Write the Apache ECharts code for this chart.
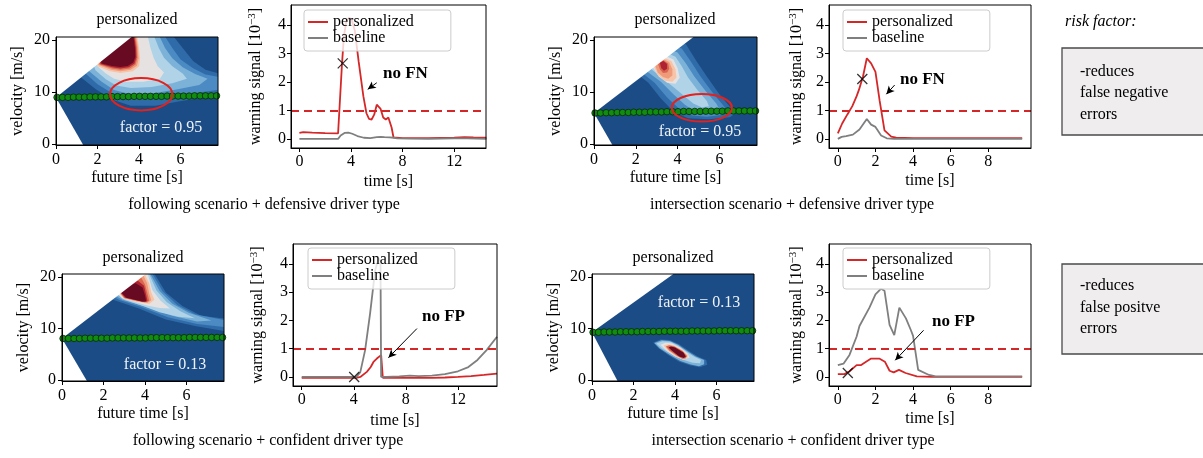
<!DOCTYPE html>
<html><head><meta charset="utf-8">
<script src="https://cdn.jsdelivr.net/npm/echarts@6/dist/echarts.min.js"></script>
<style>html,body{margin:0;padding:0;background:#fff}#c{width:1203px;height:458px}</style>
</head><body><div id="c"></div>
<script>
// ---------------- DATA ----------------
const heatTicksX = [0, 2, 4, 6];
const heatTicksY = [0, 10, 20];
const longTimeTicks = [0, 4, 8, 12];
const shortTimeTicks = [0, 2, 4, 6, 8];
const signalTicks = [0, 1, 2, 3, 4];
const threshold = 1;

// predicted trajectory (green dots): future time [s] and velocity [m/s]
const dotTimes = [0.05,0.31,0.58,0.84,1.11,1.37,1.64,1.90,2.17,2.43,2.70,2.96,3.23,3.49,3.76,4.02,4.29,4.55,4.82,5.08,5.35,5.61,5.88,6.14,6.41,6.67,6.94,7.20,7.47,7.73];
const hm1DotVel = [9.0,9.0,9.0,9.05,9.05,9.05,9.1,9.1,9.1,9.1,9.15,9.15,9.15,9.15,9.2,9.2,9.2,9.2,9.2,9.2,9.25,9.25,9.25,9.25,9.25,9.3,9.3,9.3,9.3,9.3];
const hm2DotVel = [6.0,6.0,6.05,6.05,6.1,6.1,6.1,6.15,6.15,6.15,6.2,6.2,6.2,6.25,6.25,6.25,6.3,6.3,6.3,6.3,6.35,6.35,6.35,6.35,6.4,6.4,6.4,6.4,6.4,6.4];
const hm3DotVel = [8.1,8.1,8.1,8.1,8.15,8.15,8.15,8.15,8.15,8.2,8.2,8.2,8.2,8.2,8.2,8.2,8.25,8.25,8.25,8.25,8.25,8.25,8.25,8.3,8.3,8.3,8.3,8.3,8.3,8.3];
const hm4DotVel = [9.3,9.3,9.35,9.35,9.35,9.4,9.4,9.4,9.4,9.45,9.45,9.45,9.45,9.5,9.5,9.5,9.5,9.5,9.55,9.55,9.55,9.55,9.55,9.6,9.6,9.6,9.6,9.6,9.6,9.6];

// reachable-set wedge: start point, where upper / lower limit leave the plot
const hm1Wedge = [[0, 9.0], [3.64, 20.6], [1.31, -0.15]];
const hm2Wedge = [[0, 6.0], [4.76, 20.6], [0.88, -0.15]];
const hm3Wedge = [[0, 8.1], [4.04, 20.6], [1.20, -0.15]];
const hm4Wedge = [[0, 9.3], [3.92, 20.6], [1.23, -0.15]];

// contour regions: [level, polygon in (time, velocity)]
const hm1Contours = [
 [1, [[0.5,21],[5.6,21],[6.1,18.5],[6.6,16.0],[7.2,14.3],[7.9,13.5],[7.9,9.6],[6.9,8.9],[5.9,8.2],[4.8,7.4],[3.6,7.4],[2.7,8.6],[1.9,10.6],[1.0,13.5]]],
 [2, [[0.7,21],[5.2,21],[5.6,18.5],[6.0,16.3],[6.6,14.6],[7.2,13.4],[7.9,12.9],[7.9,10.5],[6.8,9.9],[5.7,9.2],[4.6,8.7],[3.5,8.7],[2.7,9.8],[2.0,11.5],[1.3,14]]],
 [3, [[1.0,21],[4.95,21],[5.25,18.5],[5.6,16.5],[6.1,14.8],[6.7,13.5],[7.3,12.6],[6.9,11.4],[5.8,10.5],[4.7,9.8],[3.6,9.6],[2.8,10.4],[2.2,12],[1.6,14]]],
 [4, [[1.3,21],[4.7,21],[4.95,18.5],[5.2,16.6],[5.6,15.0],[6.1,13.6],[6.3,12.6],[5.6,11.7],[4.6,11.0],[3.6,10.8],[2.9,11.3],[2.4,12.5],[1.9,14.2]]],
 [5, [[1.6,21],[4.4,21],[4.55,18.5],[4.7,16.6],[4.9,15.0],[5.2,13.8],[5.0,12.6],[4.2,12.0],[3.4,12.0],[2.8,12.6],[2.4,13.6],[2.0,15]]],
 [6, [[1.7,21],[3.9,21],[4.0,18.5],[4.05,16.5],[4.0,15.0],[3.7,14.0],[3.1,13.7],[2.6,14.0],[2.0,15.0]]],
 [7, [[1.75,21],[3.85,21],[3.95,18.5],[3.98,16.5],[3.9,15.1],[3.6,14.3],[3.1,14.0],[2.65,14.3],[2.05,15.2]]],
 [8, [[1.8,21],[3.8,21],[3.9,18.5],[3.92,16.6],[3.83,15.3],[3.55,14.55],[3.1,14.3],[2.7,14.55],[2.1,15.3]]],
 [9, [[1.8,21],[3.76,21],[3.85,18.5],[3.87,16.7],[3.78,15.5],[3.5,14.8],[3.1,14.55],[2.7,14.8],[2.15,15.4]]],
 [10,[[1.8,21],[3.72,21],[3.8,18.5],[3.82,16.8],[3.72,15.7],[3.45,15.05],[3.1,14.85],[2.7,15.05],[2.2,15.5]]]
];
const hm2Contours = [
 [1, [[1.6,15],[3.3,20.5],[4.4,19.2],[4.9,16.0],[5.4,13.0],[6.0,9.6],[6.5,7.2],[6.8,6.0],[6.5,5.2],[5.5,4.8],[4.5,5.0],[3.8,6.3],[3.2,8.8],[2.6,11.8]]],
 [2, [[1.9,15],[3.4,19.5],[4.2,18.4],[4.65,15.8],[5.1,13.0],[5.7,9.8],[6.2,7.4],[6.4,6.2],[6.1,5.6],[5.4,5.3],[4.7,5.5],[4.1,6.7],[3.5,9.0],[2.9,11.8]]],
 [3, [[2.2,15],[3.4,18.7],[4.0,17.6],[4.4,15.5],[4.8,13.0],[5.35,10.2],[5.85,7.8],[6.0,6.7],[5.7,6.2],[5.2,6.1],[4.8,6.4],[4.35,7.6],[3.8,9.6],[3.2,12]]],
 [4, [[2.5,15.2],[3.35,17.8],[3.9,16.8],[4.2,15.0],[4.5,12.8],[4.95,10.4],[5.4,8.3],[5.5,7.3],[5.15,7.1],[4.75,7.8],[4.3,9.3],[3.8,11.0],[3.3,12.6]]],
 [5, [[2.7,15.5],[3.3,17.2],[3.8,16.3],[4.0,14.6],[4.1,12.8],[3.9,11.6],[3.5,11.8],[3.1,13.0]]],
 [6, [[2.8,15.5],[3.25,16.8],[3.7,16.0],[3.9,14.4],[3.95,12.8],[3.75,12.0],[3.4,12.2],[3.05,13.3]]],
 [7, [[2.9,15.4],[3.25,16.5],[3.6,15.8],[3.75,14.4],[3.75,13.2],[3.55,12.6],[3.3,12.9],[3.05,13.8]]],
 [8, [[3.05,15.6],[3.3,16.2],[3.55,15.5],[3.6,14.5],[3.5,13.8],[3.3,13.7],[3.15,14.4]]],
 [9, [[3.15,15.7],[3.33,16.0],[3.5,15.4],[3.5,14.5],[3.35,14.1],[3.22,14.6]]]
];
const hm3Contours = [
 [1, [[1.5,17],[3.5,21],[4.4,21],[5.0,17.0],[5.8,14.4],[6.7,12.5],[7.9,11.9],[7.9,9.5],[6.4,10.5],[5.0,11.8],[3.7,13.9],[2.6,15.4]]],
 [2, [[1.8,17.5],[3.6,21],[4.3,21],[4.85,17.2],[5.55,14.6],[6.4,12.8],[7.9,11.6],[7.9,10.3],[6.5,10.9],[5.1,12.2],[3.8,14.2],[2.8,15.5]]],
 [3, [[2.0,17.8],[3.7,21],[4.2,21],[4.7,17.3],[5.3,14.9],[6.1,13.1],[7.2,11.6],[6.5,11.4],[5.3,12.5],[4.0,14.3],[2.9,15.6]]],
 [4, [[2.2,18],[3.8,21],[4.15,21],[4.55,17.4],[5.05,15.1],[5.7,13.4],[6.4,12.0],[5.6,12.3],[4.7,13.2],[3.9,14.4],[3.0,15.6]]],
 [5, [[2.4,18],[3.9,21],[4.1,21],[4.35,17.5],[4.75,15.4],[5.2,13.9],[4.7,14.0],[4.1,14.5],[3.4,15.3],[2.9,15.9]]],
 [6, [[2.5,18],[3.95,20.8],[4.2,18.8],[4.3,17.0],[4.45,15.6],[4.2,14.8],[3.6,15.2],[3.0,15.8]]],
 [7, [[2.55,18],[3.9,20.5],[4.1,18.8],[4.2,16.8],[4.3,15.5],[4.1,15.0],[3.6,15.3],[3.0,15.9]]],
 [8, [[2.6,18],[3.8,20.0],[4.0,18.5],[4.12,16.7],[4.2,15.4],[4.0,15.1],[3.6,15.4],[3.0,15.95]]],
 [9, [[2.65,17.8],[3.65,19.3],[3.95,18.3],[4.05,16.6],[4.12,15.3],[3.95,15.15],[3.6,15.5],[3.05,16.0]]],
 [10,[[2.7,17.6],[3.55,18.8],[3.88,18.0],[4.0,16.4],[4.05,15.3],[3.85,15.25],[3.5,15.6],[3.1,16.0]]]
];
const hm4Contours = [
 [1, [[2.95,7.3],[3.3,7.9],[3.75,7.8],[4.2,7.0],[4.7,5.6],[5.1,4.6],[5.5,3.9],[5.55,3.0],[5.2,2.5],[4.7,2.9],[4.2,3.6],[3.7,4.8],[3.2,6.2]]],
 [3, [[3.0,7.2],[3.35,7.75],[3.75,7.6],[4.15,6.9],[4.6,5.6],[5.0,4.6],[5.4,3.9],[5.4,3.1],[5.15,2.7],[4.75,3.05],[4.25,3.75],[3.75,4.9],[3.25,6.2]]],
 [4, [[3.1,7.1],[3.4,7.55],[3.8,7.4],[4.15,6.7],[4.55,5.5],[4.9,4.6],[5.25,3.9],[5.2,3.3],[4.85,3.4],[4.35,4.0],[3.85,5.0],[3.35,6.2]]],
 [5, [[3.3,6.9],[3.55,7.25],[3.85,7.1],[4.25,6.3],[4.6,5.2],[4.7,4.4],[4.4,4.0],[4.0,4.6],[3.6,5.7]]],
 [6, [[3.45,6.75],[3.65,7.0],[3.9,6.85],[4.3,6.0],[4.62,4.9],[4.6,4.2],[4.35,4.05],[4.05,4.6],[3.65,5.7]]],
 [8, [[3.55,6.55],[3.72,6.8],[3.95,6.6],[4.35,5.7],[4.58,4.7],[4.5,4.2],[4.35,4.15],[4.1,4.7],[3.72,5.75]]],
 [10,[[3.68,6.35],[3.8,6.55],[4.0,6.35],[4.4,5.4],[4.52,4.6],[4.42,4.3],[4.2,4.6],[3.85,5.7]]]
];

// highlighted regions (ellipses): centre time, centre velocity, half-width, half-height
const hm1Ellipse = [[4.1, 9.6, 1.5, 3.1]];
const hm2Ellipse = [[5.16, 7.0, 1.44, 2.65]];

// warning signals [1e-3] over time [s]
const fdPers = [[0,0.21],[0.3,0.24],[1.0,0.22],[2.0,0.2],[3.0,0.19],[3.08,0.2],[3.3,2.6],[3.45,3.6],[3.65,4.15],[3.85,4.25],[4.05,4.2],[4.3,3.8],[4.6,2.7],[4.96,1.5],[5.2,0.9],[5.4,0.7],[5.6,0.68],[5.8,0.85],[6.0,1.2],[6.1,1.25],[6.3,1.05],[6.5,0.75],[6.7,0.68],[6.9,0.75],[7.05,0.82],[7.15,0.4],[7.3,0.05],[8,0.03],[10,0.03],[12,0.04],[12.8,0.06],[13.5,0.05],[14.5,0.04]];
const fdBase = [[0,0],[3.0,0],[3.2,0.12],[3.5,0.21],[3.8,0.22],[4.1,0.18],[4.5,0.1],[5.0,0.04],[5.5,0.03],[6.0,0.06],[6.3,0.07],[6.6,0.06],[7.0,0.05],[7.3,0.04],[7.6,0.02],[8.5,0.01],[10,0.0],[12,0.02],[13,0.02],[14.5,0.0]];
const idPers = [[0,0.19],[0.23,0.54],[0.5,0.85],[0.77,1.15],[1.0,1.5],[1.12,1.72],[1.34,2.2],[1.54,2.83],[1.77,2.65],[2.0,2.35],[2.22,1.35],[2.48,0.3],[2.84,0.08],[3.1,0.04],[4,0.03],[6,0.03],[8,0.03],[9.8,0.03]];
const idBase = [[0,0.0],[0.2,0.07],[0.44,0.1],[0.8,0.15],[1.15,0.33],[1.54,0.7],[1.77,0.5],[2.0,0.42],[2.3,0.12],[2.6,0.02],[3.0,0.0],[9.8,0.0]];
const fcPers = [[0,-0.03],[4.2,-0.03],[4.5,0.0],[5.0,0.18],[5.3,0.35],[5.51,0.53],[5.77,0.65],[6.1,0.77],[6.23,-0.03],[8,-0.03],[10,-0.03],[11,-0.02],[12,0.0],[13,0.03],[14,0.07],[15,0.12]];
const fcBase = [[0,0],[4.2,0],[4.5,0.17],[4.87,0.95],[5.25,2.24],[5.64,3.77],[5.9,4.2],[6.05,4.1],[6.1,0.0],[6.5,0.0],[7.5,0.02],[8.3,0.05],[9,0.03],[10,0.05],[11,0.1],[12,0.2],[12.8,0.35],[13.5,0.6],[14.2,0.95],[15,1.42]];
const icPers = [[0,0.1],[0.35,0.1],[0.62,0.2],[1.0,0.42],[1.24,0.42],[1.5,0.54],[1.77,0.65],[2.2,0.65],[2.5,0.54],[2.75,0.22],[2.97,0.16],[3.25,0.25],[3.6,0.14],[4.2,0.02],[5,0.0],[9.8,0.0]];
const icBase = [[0,0.42],[0.3,0.47],[0.62,0.78],[1.0,1.43],[1.15,1.8],[1.68,2.45],[2.0,2.92],[2.3,3.12],[2.48,3.05],[2.75,1.84],[3.0,1.48],[3.27,2.45],[3.62,2.07],[3.88,1.66],[4.0,1.45],[4.27,0.25],[4.85,0.07],[5.2,0.02],[9.8,0.02]];

// crosses (takeover moment) and annotation arrows [from, to]
const fdCross = [[3.36, 2.65]];
const idCross = [[1.3, 2.1]];
const fcCross = [[4.03, 0.0]];
const icCross = [[0.53, 0.14]];
const fdArrow = [[6.0, 1.97], [5.3, 1.74]];
const idArrow = [[3.02, 1.89], [2.58, 1.57]];
const fcArrow = [[8.85, 1.71], [6.66, 0.68]];
const icArrow = [[4.56, 1.65], [3.05, 0.59]];

// ---------------- STYLE / LAYOUT ----------------
const FONT = 'Liberation Serif, "Times New Roman", serif';
const palette = ['#1b4c85','#2f6ba8','#4b8ac2','#7cb2d8','#b0d3e8','#e6e2e2','#f7c4a8','#ee9b7b','#d9654f','#ae2232','#670a22'];
const RED = '#d62728', GRAY = '#7f7f7f';

const grids = [
  {left:56, top:37, width:162, height:108},
  {left:594, top:37, width:163, height:108},
  {left:62, top:274, width:162, height:107},
  {left:592, top:274, width:162, height:107},
  {left:291, top:5, width:195, height:143},
  {left:829, top:5, width:202, height:143},
  {left:293, top:244, width:204, height:142},
  {left:829, top:244, width:202, height:142}
].map(g => Object.assign({show:true, borderColor:'#000', borderWidth:1, backgroundColor:'transparent', z:10}, g));

const labelStyle = {fontFamily: FONT, fontSize: 16, color: '#000'};

function axis(gi, min, max, ticks, name, gap, margin) {
  return {
    gridIndex: gi, type: 'value', min, max, z: 10,
    axisLine: {show: true, onZero: false, lineStyle: {color: '#000', width: 1}},
    axisTick: {show: true, inside: false, length: 4, customValues: ticks, lineStyle: {color: '#000'}},
    axisLabel: Object.assign({customValues: ticks, margin}, labelStyle),
    splitLine: {show: false},
    name, nameLocation: 'middle', nameGap: gap,
    nameTextStyle: Object.assign({rich: {sup: {fontFamily: FONT, fontSize: 11, color:'#000', verticalAlign: 'top', lineHeight: 18}}, lineHeight: 18}, labelStyle)
  };
}

const xAxes = [], yAxes = [];
for (let i = 0; i < 4; i++) {
  xAxes.push(axis(i, 0, 7.8, heatTicksX, 'future time [s]', 24, 7));
  yAxes.push(axis(i, -0.15, 20.6, heatTicksY, 'velocity [m/s]', 29, 6));
}
const lineXRange = [[-0.65, 14.47, longTimeTicks, 25], [-0.47, 10.27, shortTimeTicks, 24], [-0.67, 15.0, longTimeTicks, 26], [-0.47, 10.27, shortTimeTicks, 24]];
const ySig = 'warning signal [10{sup|−3}]';
const lineYGap = [26, 23, 26, 23];
for (let i = 0; i < 4; i++) {
  const r = lineXRange[i];
  xAxes.push(axis(4 + i, r[0], r[1], r[2], 'time [s]', r[3], 6));
  yAxes.push(axis(4 + i, -0.32, 4.7, signalTicks, ySig, lineYGap[i], 5));
}

function contourSeries(gi, contours, wedge) {
  const n = contours.length;
  const data = [];
  for (let k = 0; k < n + 2; k++) data.push([k]);
  return {
    type: 'custom', xAxisIndex: gi, yAxisIndex: gi, clip: true, silent: true, z: 1,
    data,
    renderItem: function (params, api) {
      const k = params.dataIndex;
      const cs = params.coordSys;
      if (k === 0) {
        return {type: 'rect', z2: 0, shape: {x: cs.x, y: cs.y, width: cs.width, height: cs.height}, style: {fill: palette[0]}};
      }
      if (k <= n) {
        const c = contours[k - 1];
        return {type: 'polygon', z2: k, shape: {points: c[1].map(p => api.coord(p))}, style: {fill: palette[c[0]]}};
      }
      const p0 = api.coord(wedge[0]), pt = api.coord(wedge[1]), pb = api.coord(wedge[2]);
      return {type: 'group', children: [
        {type: 'polygon', z2: 50, shape: {points: [p0, pt, [pt[0], pt[1] - 30], [p0[0] - 30, pt[1] - 30], [p0[0] - 30, p0[1]]]}, style: {fill: '#fff'}},
        {type: 'polygon', z2: 50, shape: {points: [p0, pb, [pb[0], pb[1] + 30], [p0[0] - 30, pb[1] + 30], [p0[0] - 30, p0[1]]]}, style: {fill: '#fff'}}
      ]};
    }
  };
}
function dotSeries(gi, vel) {
  return {type: 'scatter', xAxisIndex: gi, yAxisIndex: gi, silent: true, z: 3, clip: false,
    data: dotTimes.map((t, k) => [t, vel[k]]), symbolSize: 6.5,
    itemStyle: {color: '#118c11', borderColor: '#062806', borderWidth: 0.8, opacity: 1}};
}
function ellipseSeries(gi, ell) {
  return {type: 'custom', xAxisIndex: gi, yAxisIndex: gi, silent: true, z: 4, clip: false, data: ell,
    renderItem: function (params, api) {
      const c = api.coord([api.value(0), api.value(1)]);
      const s = api.size([api.value(2), api.value(3)]);
      return {type: 'ellipse', shape: {cx: c[0], cy: c[1], rx: s[0], ry: s[1]}, style: {fill: 'none', stroke: '#e4211c', lineWidth: 2}};
    }};
}
function lineSeries(gi, pers, base, cross, arrow) {
  const arrowStyle = {color: '#000', width: 1, type: 'solid'};
  return [
    {type: 'line', name: 'personalized', xAxisIndex: gi, yAxisIndex: gi, data: pers, symbol: 'none', z: 3,
     lineStyle: {color: RED, width: 1.8}, itemStyle: {color: RED},
     markLine: {silent: true, symbol: ['none', 'none'], label: {show: false}, animation: false,
       data: [
         {yAxis: threshold, lineStyle: {color: RED, width: 1.8, type: [8, 5]}},
         [{coord: arrow[0], lineStyle: arrowStyle, symbol: 'none'}, {coord: arrow[1], lineStyle: arrowStyle, symbol: 'arrow', symbolSize: [6, 8]}]
       ]}},
    {type: 'line', name: 'baseline', xAxisIndex: gi, yAxisIndex: gi, data: base, symbol: 'none', z: 3,
     lineStyle: {color: GRAY, width: 1.8}, itemStyle: {color: GRAY}},
    {type: 'scatter', xAxisIndex: gi, yAxisIndex: gi, data: cross, silent: true, z: 6,
     symbol: 'path://M0,0L10,10M10,0L0,10', symbolSize: 10,
     itemStyle: {color: 'none', borderColor: '#000', borderWidth: 1.3}}
  ];
}

const series = [
  contourSeries(0, hm1Contours, hm1Wedge), dotSeries(0, hm1DotVel), ellipseSeries(0, hm1Ellipse),
  contourSeries(1, hm2Contours, hm2Wedge), dotSeries(1, hm2DotVel), ellipseSeries(1, hm2Ellipse),
  contourSeries(2, hm3Contours, hm3Wedge), dotSeries(2, hm3DotVel),
  contourSeries(3, hm4Contours, hm4Wedge), dotSeries(3, hm4DotVel)
].concat(
  lineSeries(4, fdPers, fdBase, fdCross, fdArrow),
  lineSeries(5, idPers, idBase, idCross, idArrow),
  lineSeries(6, fcPers, fcBase, fcCross, fcArrow),
  lineSeries(7, icPers, icBase, icCross, icArrow)
);

function legendAt(left, top) {
  return {data: ['personalized', 'baseline'], orient: 'vertical', left, top, icon: 'rect', itemWidth: 20, itemHeight: 2, itemGap: 0,
    padding: [4, 37, 5, 4], backgroundColor: 'rgba(255,255,255,0.8)', borderColor: '#cccccc', borderWidth: 1, borderRadius: 3,
    selectedMode: false, z: 8, textStyle: Object.assign({lineHeight: 16}, labelStyle)};
}
const legends = [legendAt(304, 10), legendAt(843, 10), legendAt(308, 248), legendAt(843, 248)];

function txt(x, y, text, extra) {
  return {type: 'text', x, y, z: 100, silent: true,
    style: Object.assign({text, fontFamily: FONT, fontSize: 16, fill: '#000', textAlign: 'center', textVerticalAlign: 'middle', align: 'center', verticalAlign: 'middle'}, extra || {})};
}
const left = {textAlign: 'left', align: 'left'};
const white = {fill: '#eef2f7'};
const bold = Object.assign({fontWeight: 'bold', fontSize: 17}, left);
const graphics = [
  txt(137, 20, 'personalized'), txt(675, 20, 'personalized'), txt(143, 258, 'personalized'), txt(673, 258, 'personalized'),
  txt(264, 205, 'following scenario + defensive driver type'), txt(792, 205, 'intersection scenario + defensive driver type'),
  txt(268, 441, 'following scenario + confident driver type'), txt(793, 441, 'intersection scenario + confident driver type'),
  txt(161, 128, 'factor = 0.95', white), txt(700, 132, 'factor = 0.95', white),
  txt(165, 365, 'factor = 0.13', white), txt(699, 303, 'factor = 0.13', white),
  txt(383, 74, 'no FN', bold), txt(900, 80, 'no FN', bold), txt(422, 317, 'no FP', bold), txt(932, 322, 'no FP', bold),
  txt(1065, 22, 'risk factor:', Object.assign({fontStyle: 'italic'}, left)),
  {type: 'rect', z: 90, silent: true, shape: {x: 1062, y: 48, width: 170, height: 87}, style: {fill: '#efedee', stroke: '#4a4a4a', lineWidth: 1.3}},
  {type: 'rect', z: 90, silent: true, shape: {x: 1062, y: 264, width: 170, height: 90}, style: {fill: '#efedee', stroke: '#4a4a4a', lineWidth: 1.3}},
  txt(1080, 72, '-reduces', left), txt(1080, 93, 'false negative', left), txt(1080, 115, 'errors', left),
  txt(1080, 286, '-reduces', left), txt(1080, 308, 'false positve', left), txt(1080, 329, 'errors', left)
];

const chart = echarts.init(document.getElementById('c'), null, {renderer: 'canvas'});
chart.setOption({
  animation: false,
  backgroundColor: '#fff',
  grid: grids,
  xAxis: xAxes,
  yAxis: yAxes,
  legend: legends,
  series,
  graphic: {elements: graphics}
});
</script></body></html>
